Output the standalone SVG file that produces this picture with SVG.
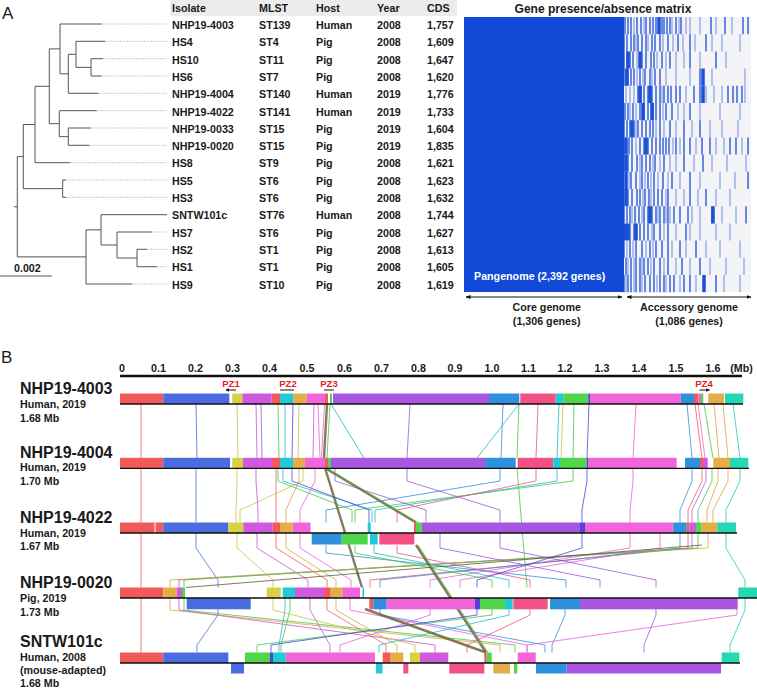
<svg xmlns="http://www.w3.org/2000/svg" width="757" height="691" viewBox="0 0 757 691">
<defs>
<style>
text{font-family:"Liberation Sans",Arial,sans-serif;fill:#1a1a1a}
.b{font-weight:bold;font-size:10.7px}
.big{font-weight:bold;font-size:16px}
.lt{font-size:17px}
.pz{font-weight:bold;font-size:9.5px;fill:#e8191b}
.mid{text-anchor:middle}
.tree{stroke:#555;stroke-width:1;fill:none}
.leaf{stroke:#c9c9c9;stroke-width:1;stroke-dasharray:2 1;fill:none}
.d{stroke:#1a4fd8;stroke-width:1.3;fill:none}
.l{stroke:#8ea4ea;stroke-width:1.3;fill:none}
.w{stroke:#1a4fd8;stroke-width:3.5;fill:none}
.c{fill:none;stroke-width:.8}
.thick{fill:none;stroke:#6e6440;stroke-width:2.4;opacity:.85}
.fR{fill:#f25a5a}.fB{fill:#4a6ce0}.fY{fill:#d6d244}.fM{fill:#cf5ade}.fT{fill:#20cad6}.fG{fill:#e3ad48}.fP{fill:#f264da}.fV{fill:#a856e2}.fS{fill:#2f91de}.fC{fill:#f25283}.fN{fill:#4fd64a}.fQ{fill:#24d8b4}.fD{fill:#4a46d8}
.sR{stroke:#f25a5a}.sB{stroke:#4a6ce0}.sY{stroke:#c8c440}.sM{stroke:#c656d6}.sT{stroke:#20bcc8}.sG{stroke:#dba543}.sP{stroke:#ee60d6}.sV{stroke:#9f58d8}.sS{stroke:#2f91de}.sC{stroke:#f05283}.sN{stroke:#48c844}.sQ{stroke:#22ccaa}.sD{stroke:#4a46d8}
.base{stroke:#111;stroke-width:1.3;fill:none}
.arr{stroke:#111;stroke-width:1;fill:none}
</style>
<marker id="ah" viewBox="0 0 10 10" refX="9" refY="5" markerWidth="5" markerHeight="5" orient="auto-start-reverse"><path d="M0,1L10,5L0,9z" fill="#111"/></marker>
<marker id="ahs" viewBox="0 0 10 10" refX="9" refY="5" markerWidth="3.6" markerHeight="3.6" orient="auto-start-reverse"><path d="M0,0L10,5L0,10z" fill="#111"/></marker>
</defs>
<rect width="757" height="691" fill="#fff"/>

<!-- Panel A -->
<text x="2" y="19" class="lt">A</text>
<g id="tree">
<path class="leaf" d="M101.7,24H167M105,41.3H167M103,58.7H167M101.7,76H167M98.3,93.3H167M96.7,110.7H167M91,128H167M89.3,145.3H167M70,162.7H167M66,180H167M66,197.3H167M152,232H167M147,249.3H167M157,266.7H167M132,284H167"/>
<path class="tree" d="M60,24H101.7M60,24V73.8H68.3M68.3,54.3V93.3H98.3M68.3,54.3H76M76,41.3V67.35H91M76,41.3H105M91,58.7V76H101.7M91,58.7H103M49.3,48.9H60M49.3,48.9V123.7H59.3M59.3,110.7V136.65H68.3M59.3,110.7H96.7M68.3,128V145.3H89.3M68.3,128H91M35,86.3H49.3M35,86.3V162.7H70M23.3,124.5H35M23.3,124.5V188.65H62.7M62.7,180V197.3H66M62.7,180H66M17.3,156.6H23.3M17.3,156.6V256.9H86M14,206.75H17.3M86,229.85V284H132M86,229.85H101M101,214.7V245H117M101,214.7H167M117,232V258H137M117,232H152M137,249.3V266.7H157M137,249.3H147"/>
<path class="tree" d="M0,276H52"/>
<text x="14" y="271.5" class="b">0.002</text>
</g>

<g id="table">
<rect x="170" y="0" width="287" height="16" fill="#ececec"/>
<text y="12" class="b"><tspan x="172">Isolate</tspan><tspan x="259">MLST</tspan><tspan x="316">Host</tspan><tspan x="377">Year</tspan><tspan x="427">CDS</tspan></text>
<g class="b">
<text y="28.8" class="b"><tspan x="172">NHP19-4003</tspan><tspan x="259">ST139</tspan><tspan x="316">Human</tspan><tspan x="377">2008</tspan><tspan x="427">1,757</tspan></text>
<text y="46.1" class="b"><tspan x="172">HS4</tspan><tspan x="259">ST4</tspan><tspan x="316">Pig</tspan><tspan x="377">2008</tspan><tspan x="427">1,609</tspan></text>
<text y="63.5" class="b"><tspan x="172">HS10</tspan><tspan x="259">ST11</tspan><tspan x="316">Pig</tspan><tspan x="377">2008</tspan><tspan x="427">1,647</tspan></text>
<text y="80.8" class="b"><tspan x="172">HS6</tspan><tspan x="259">ST7</tspan><tspan x="316">Pig</tspan><tspan x="377">2008</tspan><tspan x="427">1,620</tspan></text>
<text y="98.1" class="b"><tspan x="172">NHP19-4004</tspan><tspan x="259">ST140</tspan><tspan x="316">Human</tspan><tspan x="377">2019</tspan><tspan x="427">1,776</tspan></text>
<text y="115.5" class="b"><tspan x="172">NHP19-4022</tspan><tspan x="259">ST141</tspan><tspan x="316">Human</tspan><tspan x="377">2019</tspan><tspan x="427">1,733</tspan></text>
<text y="132.8" class="b"><tspan x="172">NHP19-0033</tspan><tspan x="259">ST15</tspan><tspan x="316">Pig</tspan><tspan x="377">2019</tspan><tspan x="427">1,604</tspan></text>
<text y="150.1" class="b"><tspan x="172">NHP19-0020</tspan><tspan x="259">ST15</tspan><tspan x="316">Pig</tspan><tspan x="377">2019</tspan><tspan x="427">1,835</tspan></text>
<text y="167.4" class="b"><tspan x="172">HS8</tspan><tspan x="259">ST9</tspan><tspan x="316">Pig</tspan><tspan x="377">2008</tspan><tspan x="427">1,621</tspan></text>
<text y="184.8" class="b"><tspan x="172">HS5</tspan><tspan x="259">ST6</tspan><tspan x="316">Pig</tspan><tspan x="377">2008</tspan><tspan x="427">1,623</tspan></text>
<text y="202.1" class="b"><tspan x="172">HS3</tspan><tspan x="259">ST6</tspan><tspan x="316">Pig</tspan><tspan x="377">2008</tspan><tspan x="427">1,632</tspan></text>
<text y="219.4" class="b"><tspan x="172">SNTW101c</tspan><tspan x="259">ST76</tspan><tspan x="316">Human</tspan><tspan x="377">2008</tspan><tspan x="427">1,744</tspan></text>
<text y="236.8" class="b"><tspan x="172">HS7</tspan><tspan x="259">ST6</tspan><tspan x="316">Pig</tspan><tspan x="377">2008</tspan><tspan x="427">1,627</tspan></text>
<text y="254.1" class="b"><tspan x="172">HS2</tspan><tspan x="259">ST1</tspan><tspan x="316">Pig</tspan><tspan x="377">2008</tspan><tspan x="427">1,613</tspan></text>
<text y="271.4" class="b"><tspan x="172">HS1</tspan><tspan x="259">ST1</tspan><tspan x="316">Pig</tspan><tspan x="377">2008</tspan><tspan x="427">1,605</tspan></text>
<text y="288.8" class="b"><tspan x="172">HS9</tspan><tspan x="259">ST10</tspan><tspan x="316">Pig</tspan><tspan x="377">2008</tspan><tspan x="427">1,619</tspan></text>
</g>
</g>

<g id="matrix">
<text x="603" y="12.5" class="mid" style="font-weight:bold;font-size:12px">Gene presence/absence matrix</text>
<rect x="464" y="17" width="160" height="275" fill="#1249d6"/>
<rect x="624" y="17" width="127" height="275" fill="#f4f4f7"/>
<g transform="translate(0,17)"><path class="l" d="M634,0v17.2M644,0v17.2M672,0v17.2M679,0v17.2M686,0v17.2M690,0v17.2M700,0v17.2M716,0v17.2M732,0v17.2"/><path class="d" d="M625,0v17.2M628,0v17.2M631,0v17.2M637,0v17.2M641,0v17.2M646,0v17.2M650,0v17.2M653,0v17.2M656,0v17.2M662,0v17.2M664,0v17.2M667,0v17.2M670,0v17.2M676,0v17.2M681,0v17.2M711,0v17.2M725,0v17.2M743,0v17.2M748,0v17.2"/><path class="w" d="M659,0v17.2"/></g>
<g transform="translate(0,34.2)"><path class="l" d="M636,0v17.2M648,0v17.2M663,0v17.2M673,0v17.2M683,0v17.2M695,0v17.2M712,0v17.2M722,0v17.2M740,0v17.2"/><path class="d" d="M624,0v17.2M627,0v17.2M631,0v17.2M634,0v17.2M638,0v17.2M642,0v17.2M646,0v17.2M652,0v17.2M655,0v17.2M660,0v17.2M668,0v17.2M678,0v17.2M690,0v17.2M706,0v17.2"/></g>
<g transform="translate(0,51.4)"><path class="l" d="M637,0v17.2M657,0v17.2M666,0v17.2M676,0v17.2M684,0v17.2M700,0v17.2M726,0v17.2"/><path class="d" d="M624,0v17.2M627,0v17.2M630,0v17.2M633,0v17.2M642,0v17.2M646,0v17.2M651,0v17.2M654,0v17.2M662,0v17.2M670,0v17.2M690,0v17.2M716,0v17.2"/><path class="w" d="M628,0v17.2M640,0v17.2"/></g>
<g transform="translate(0,68.6)"><path class="l" d="M628,0v17.2M637,0v17.2M643,0v17.2M652,0v17.2M666,0v17.2M676,0v17.2M690,0v17.2M712,0v17.2M745,0v17.2"/><path class="d" d="M625,0v17.2M631,0v17.2M634,0v17.2M640,0v17.2M645,0v17.2M650,0v17.2M655,0v17.2M660,0v17.2M700,0v17.2"/><path class="w" d="M627,0v17.2M703,0v17.2"/></g>
<g transform="translate(0,85.8)"><path class="l" d="M626,0v17.2M630,0v17.2M634,0v17.2M662,0v17.2M686,0v17.2M706,0v17.2M714,0v17.2M722,0v17.2M745,0v17.2"/><path class="d" d="M638,0v17.2M641,0v17.2M644,0v17.2M648,0v17.2M652,0v17.2M656,0v17.2M660,0v17.2M664,0v17.2M668,0v17.2M671,0v17.2M676,0v17.2M680,0v17.2M694,0v17.2M700,0v17.2M728,0v17.2M733,0v17.2M737,0v17.2M742,0v17.2"/><path class="w" d="M640,0v17.2M650,0v17.2M703,0v17.2"/></g>
<g transform="translate(0,103)"><path class="l" d="M630,0v17.2M636,0v17.2M663,0v17.2M678,0v17.2M684,0v17.2M700,0v17.2M720,0v17.2M740,0v17.2"/><path class="d" d="M625,0v17.2M628,0v17.2M633,0v17.2M640,0v17.2M644,0v17.2M648,0v17.2M653,0v17.2M656,0v17.2M660,0v17.2M666,0v17.2M672,0v17.2M690,0v17.2"/><path class="w" d="M643,0v17.2M652,0v17.2"/></g>
<g transform="translate(0,120.2)"><path class="l" d="M636,0v17.2M656,0v17.2M664,0v17.2M676,0v17.2M692,0v17.2M710,0v17.2M722,0v17.2M738,0v17.2"/><path class="d" d="M624,0v17.2M627,0v17.2M630,0v17.2M634,0v17.2M638,0v17.2M642,0v17.2M646,0v17.2M650,0v17.2M653,0v17.2M660,0v17.2M670,0v17.2M684,0v17.2M700,0v17.2"/><path class="w" d="M632,0v17.2"/></g>
<g transform="translate(0,137.4)"><path class="l" d="M636,0v17.2M673,0v17.2M680,0v17.2M696,0v17.2M716,0v17.2M724,0v17.2M742,0v17.2"/><path class="d" d="M625,0v17.2M629,0v17.2M632,0v17.2M640,0v17.2M644,0v17.2M648,0v17.2M652,0v17.2M656,0v17.2M660,0v17.2M663,0v17.2M666,0v17.2M669,0v17.2M676,0v17.2M684,0v17.2M690,0v17.2M702,0v17.2M710,0v17.2M730,0v17.2M736,0v17.2M748,0v17.2"/><path class="w" d="M626,0v17.2M646,0v17.2"/></g>
<g transform="translate(0,154.6)"><path class="l" d="M640,0v17.2M653,0v17.2M660,0v17.2M670,0v17.2M676,0v17.2M694,0v17.2M712,0v17.2M727,0v17.2M746,0v17.2"/><path class="d" d="M624,0v17.2M628,0v17.2M632,0v17.2M637,0v17.2M642,0v17.2M646,0v17.2M650,0v17.2M655,0v17.2M664,0v17.2M684,0v17.2M703,0v17.2"/><path class="w" d="M626,0v17.2"/></g>
<g transform="translate(0,171.8)"><path class="l" d="M629,0v17.2M640,0v17.2M645,0v17.2M651,0v17.2M658,0v17.2M668,0v17.2M680,0v17.2M700,0v17.2M720,0v17.2M735,0v17.2"/><path class="d" d="M626,0v17.2M631,0v17.2M636,0v17.2M642,0v17.2M648,0v17.2M654,0v17.2M663,0v17.2M672,0v17.2M690,0v17.2M748,0v17.2"/><path class="w" d="M626,0v17.2"/></g>
<g transform="translate(0,189)"><path class="l" d="M625,0v17.2M643,0v17.2M651,0v17.2M666,0v17.2M676,0v17.2M684,0v17.2M698,0v17.2M716,0v17.2M730,0v17.2"/><path class="d" d="M628,0v17.2M632,0v17.2M637,0v17.2M640,0v17.2M645,0v17.2M649,0v17.2M654,0v17.2M658,0v17.2M662,0v17.2M668,0v17.2M690,0v17.2M706,0v17.2"/><path class="w" d="M626,0v17.2"/></g>
<g transform="translate(0,206.2)"><path class="l" d="M632,0v17.2M642,0v17.2M658,0v17.2M666,0v17.2M670,0v17.2M692,0v17.2M700,0v17.2M722,0v17.2M736,0v17.2"/><path class="d" d="M624,0v17.2M627,0v17.2M630,0v17.2M635,0v17.2M639,0v17.2M644,0v17.2M648,0v17.2M652,0v17.2M656,0v17.2M660,0v17.2M664,0v17.2M668,0v17.2M674,0v17.2M680,0v17.2M688,0v17.2M712,0v17.2M746,0v17.2"/><path class="w" d="M650,0v17.2M713,0v17.2"/></g>
<g transform="translate(0,223.4)"><path class="l" d="M652,0v17.2M664,0v17.2M676,0v17.2M690,0v17.2M700,0v17.2M716,0v17.2M730,0v17.2"/><path class="d" d="M630,0v17.2M634,0v17.2M640,0v17.2M644,0v17.2M648,0v17.2M654,0v17.2M660,0v17.2M668,0v17.2M686,0v17.2"/><path class="w" d="M625,0v17.2M628,0v17.2M636,0v17.2"/></g>
<g transform="translate(0,240.6)"><path class="l" d="M627,0v17.2M633,0v17.2M646,0v17.2M653,0v17.2M672,0v17.2M686,0v17.2M706,0v17.2M720,0v17.2M740,0v17.2"/><path class="d" d="M624,0v17.2M630,0v17.2M636,0v17.2M642,0v17.2M650,0v17.2M656,0v17.2M662,0v17.2M668,0v17.2M680,0v17.2M696,0v17.2"/></g>
<g transform="translate(0,257.8)"><path class="l" d="M628,0v17.2M634,0v17.2M642,0v17.2M651,0v17.2M664,0v17.2M676,0v17.2M690,0v17.2M710,0v17.2M726,0v17.2M744,0v17.2"/><path class="d" d="M626,0v17.2M631,0v17.2M636,0v17.2M640,0v17.2M644,0v17.2M648,0v17.2M654,0v17.2M660,0v17.2M668,0v17.2M682,0v17.2M700,0v17.2"/></g>
<g transform="translate(0,275)"><path class="l" d="M626,0v17.2M634,0v17.2M642,0v17.2M657,0v17.2M666,0v17.2M680,0v17.2M696,0v17.2M724,0v17.2M740,0v17.2"/><path class="d" d="M624,0v17.2M628,0v17.2M631,0v17.2M636,0v17.2M640,0v17.2M645,0v17.2M650,0v17.2M654,0v17.2M660,0v17.2M664,0v17.2M670,0v17.2M674,0v17.2M684,0v17.2M690,0v17.2M716,0v17.2"/><path class="w" d="M704,0v17.2"/></g>
<text x="474" y="280" class="b" style="fill:#fff">Pangenome (2,392 genes)</text>
<path class="arr" d="M466,297H622" marker-start="url(#ah)" marker-end="url(#ah)"/>
<path class="arr" d="M627,297H751" marker-start="url(#ah)" marker-end="url(#ah)"/>
<text x="546.7" y="310.5" class="b mid">Core genome</text>
<text x="546.7" y="324.5" class="b mid">(1,306 genes)</text>
<text x="689" y="310.5" class="b mid">Accessory genome</text>
<text x="689" y="324.5" class="b mid">(1,086 genes)</text>
</g>

<!-- Panel B -->
<text x="1" y="363" class="lt">B</text>
<g id="axis">
<path d="M120,376H742" stroke="#111" stroke-width="2.6" fill="none"/>
<text y="372" class="b mid"><tspan x="122">0</tspan><tspan x="158.5">0.1</tspan><tspan x="195.5">0.2</tspan><tspan x="232.5">0.3</tspan><tspan x="269.5">0.4</tspan><tspan x="307">0.5</tspan><tspan x="344.5">0.6</tspan><tspan x="381.5">0.7</tspan><tspan x="418.5">0.8</tspan><tspan x="455">0.9</tspan><tspan x="492">1.0</tspan><tspan x="528.5">1.1</tspan><tspan x="565">1.2</tspan><tspan x="602">1.3</tspan><tspan x="639">1.4</tspan><tspan x="676">1.5</tspan><tspan x="713">1.6</tspan><tspan x="741.5">(Mb)</tspan></text>
</g>

<g id="connectors">
<!-- 4003 to 4004 -->
<path class="c sR" d="M141,404V458M695,404L702,458"/>
<path class="c sB" d="M196,404L197,458"/>
<path class="c sY" d="M237,404L238,458M299,404L298,458M563,404L561,458"/>
<path class="c sM" d="M256,404L257,458M314,404L313,458"/>
<path class="c sV" d="M261,404L262,458M410,404L407,458"/>
<path class="c sN" d="M278,404L279,458M519,404L517,458M574,404L573,458M704,404L713,458"/>
<path class="c sT" d="M285,404L285,458M331,404L364,458M519,404L477,458M559,404L557,458"/>
<path class="c sD" d="M293,404L292,458M589,404L587,458"/>
<path class="c sP" d="M318,404L320,458M636,404L633,458M698,404L705,458"/>
<path class="c sS" d="M503,404L501,458M687,404L692,458"/>
<path class="c sC" d="M538,404L536,458"/>
<path class="c sG" d="M714,404L719,458M723,404L728,458"/>
<path class="c sQ" d="M733,404L740,458"/>
<path class="thick" d="M327,404L324,458"/>
<path class="c sN" d="M330,404L327,458"/>
<path class="c sP" d="M324.5,404L321.5,458"/>
<!-- 4004 to 4022 -->
<path class="c sR" d="M141,468V522.5M276,468V481L276,510V522.5M702,468V481L688,510V522.5"/>
<path class="c sB" d="M196,468V522.5"/>
<path class="c sY" d="M237,468V481L236,510V522.5M303,468V481L240,510V522.5"/>
<path class="c sM" d="M256,468V481L258,510V522.5M706,468V481L692,510V522.5"/>
<path class="c sN" d="M278,468V481L352,510V522.5M573,468V481L355,510V522.5M712,468V481L698,510V522.5M517,468L527,587.5"/>
<path class="c sT" d="M283,468V481L372,510V522.5M557,468V481L375,510V522.5"/>
<path class="c sD" d="M292,468V481L369,510V522.5M587,468V481L582,510V522.5"/>
<path class="c sG" d="M299,468V481L286,510V522.5M718,468V481L707,510V522.5M728,468V481L713,510V522.5"/>
<path class="c sP" d="M315,468V481L300,510V522.5M633,468V481L630,510V522.5"/>
<path class="c sV" d="M335,468V481L426,510V522.5M407,468V481L500,510V522.5"/>
<path class="c sS" d="M500,468V481L326,510V522.5M692,468V481L680,510V522.5"/>
<path class="c sC" d="M536,468V481L397,510V522.5"/>
<path class="c sQ" d="M740,468V481L726,510V522.5"/>
<path class="thick" d="M325,468L416,522.5M325,468L362,587.5"/>
<path class="c sN" d="M327,468L418,522.5"/>
<!-- 4022 to 0020 -->
<path class="c sR" d="M141,533V587.5M276,533V548L327,580V587.5M688,533V548L370,580V587.5"/>
<path class="c sB" d="M196,533V548L218,580V587.5"/>
<path class="c sY" d="M237,533V548L273,580V587.5"/>
<path class="c sM" d="M257,533V548L308,580V587.5M692,533V548L179,580V587.5"/>
<path class="c sG" d="M286,533V548L336,580V587.5M708,533V548L170,580V587.5"/>
<path class="c sP" d="M300,533V548L351,580V587.5M630,533V548L430,580V587.5M660,533V548L460,580V587.5"/>
<path class="c sS" d="M326,545V553L566,580V587.5M680,533V548L380,580V587.5"/>
<path class="c sN" d="M355,545V553L492,580V587.5M698,533V548L184,580V587.5"/>
<path class="c sT" d="M374,545V553L509,580V587.5"/>
<path class="c sC" d="M397,545V553L530,580V587.5"/>
<path class="c sV" d="M440,533V548L600,580V587.5M500,533V548L656,580V587.5"/>
<path class="c sD" d="M582,533V548L477,580V587.5"/>
<path class="c sQ" d="M726,533V548L745,580V587.5"/>
<path class="c" stroke="#5e5a38" stroke-width="1.2" d="M702,545L186,587.5"/>
<path class="thick" d="M416,545L486,652.5"/>
<path class="c sN" d="M418,545L488,652.5"/>
<!-- 0020 to SNTW101c -->
<path class="c sR" d="M141,598V652.5M327,598V610L386,645V652.5"/>
<path class="c sB" d="M218,609V615L197,645V652.5"/>
<path class="c sG" d="M170,598V610L500,645V652.5M336,598V610L397,645V652.5"/>
<path class="c sM" d="M179,598V610L435,645V652.5M310,598V610L330,645V652.5"/>
<path class="c sN" d="M184,598V610L515,645V652.5M290,598V610L281,645V652.5M492,609V615L257,645V652.5"/>
<path class="c sY" d="M273,598V610L415,645V652.5"/>
<path class="c sT" d="M285,598V610L279,645V652.5M509,609V615L379,645V652.5"/>
<path class="c sP" d="M350,598V610L527,645V652.5M430,609V615L340,645V652.5M737,609V615L527,645V652.5"/>
<path class="c sS" d="M380,609V615L545,645V652.5M565,609V615L552,645V652.5"/>
<path class="c sD" d="M477,609V615L271,645V652.5"/>
<path class="c sC" d="M530,609V615L467,645V652.5"/>
<path class="c sV" d="M656,609V615L644,645V652.5"/>
<path class="c sQ" d="M745,598V610L730,645V652.5"/>
<path class="thick" d="M365,609L486,652.5"/>
</g>

<g id="NHP19-4003">
<rect class="fR" x="120" y="393.5" width="43.3" height="10.5"/><rect class="fB" x="163.3" y="393.5" width="66" height="10.5"/><rect class="fY" x="232.3" y="393.5" width="10" height="10.5"/><rect class="fM" x="242.3" y="393.5" width="29.4" height="10.5"/><rect class="fR" x="271.7" y="393.5" width="8.3" height="10.5"/><rect class="fT" x="280" y="393.5" width="13.3" height="10.5"/><rect class="fG" x="293.3" y="393.5" width="13.4" height="10.5"/><rect class="fP" x="306.7" y="393.5" width="18.3" height="10.5"/><rect class="fR" x="325" y="393.5" width="3" height="10.5"/><rect class="fN" x="330" y="393.5" width="2" height="10.5"/><rect class="fV" x="333" y="393.5" width="156" height="10.5"/><rect class="fS" x="489" y="393.5" width="30.3" height="10.5"/><rect class="fC" x="520.3" y="393.5" width="35.4" height="10.5"/><rect class="fT" x="555.7" y="393.5" width="7.6" height="10.5"/><rect class="fN" x="563.3" y="393.5" width="25" height="10.5"/><rect class="fD" x="588.3" y="393.5" width="1.7" height="10.5"/><rect class="fP" x="590" y="393.5" width="90.7" height="10.5"/><rect class="fS" x="680.7" y="393.5" width="13.3" height="10.5"/><rect class="fR" x="694" y="393.5" width="4.3" height="10.5"/><rect class="fP" x="698.3" y="393.5" width="2.7" height="10.5"/><rect class="fN" x="701" y="393.5" width="2.3" height="10.5"/><rect class="fG" x="708.3" y="393.5" width="15.7" height="10.5"/><rect class="fQ" x="725" y="393.5" width="18.3" height="10.5"/>
<path class="base" d="M120,404H743"/>
<text x="20" y="394" class="big">NHP19-4003</text>
<text x="20" y="408" class="b">Human, 2019</text>
<text x="20" y="421.5" class="b">1.68 Mb</text>
<text x="231" y="386.6" class="pz mid">PZ1</text>
<text x="288" y="386.6" class="pz mid">PZ2</text>
<text x="329" y="386.6" class="pz mid">PZ3</text>
<text x="704" y="386.6" class="pz mid">PZ4</text>
<path class="arr" d="M226,390H236M280,390H294M324,390H334M699.5,390H709.5" marker-start="url(#ahs)" marker-end="url(#ahs)"/>
</g>

<g id="NHP19-4004">
<rect class="fR" x="120" y="457.8" width="43.3" height="10.5"/><rect class="fB" x="163.3" y="457.8" width="66.7" height="10.5"/><rect class="fY" x="232.3" y="457.8" width="10.7" height="10.5"/><rect class="fM" x="243" y="457.8" width="29" height="10.5"/><rect class="fR" x="272" y="457.8" width="8" height="10.5"/><rect class="fT" x="280" y="457.8" width="13" height="10.5"/><rect class="fG" x="293" y="457.8" width="12" height="10.5"/><rect class="fP" x="305" y="457.8" width="20" height="10.5"/><rect class="fR" x="325" y="457.8" width="3" height="10.5"/><rect class="fN" x="328" y="457.8" width="3" height="10.5"/><rect class="fV" x="331" y="457.8" width="154" height="10.5"/><rect class="fS" x="485" y="457.8" width="30.7" height="10.5"/><rect class="fC" x="517.7" y="457.8" width="35.6" height="10.5"/><rect class="fT" x="553.3" y="457.8" width="6.7" height="10.5"/><rect class="fN" x="560" y="457.8" width="26.7" height="10.5"/><rect class="fD" x="586.7" y="457.8" width="1.3" height="10.5"/><rect class="fP" x="588" y="457.8" width="88.7" height="10.5"/><rect class="fS" x="685" y="457.8" width="15" height="10.5"/><rect class="fR" x="700" y="457.8" width="3" height="10.5"/><rect class="fM" x="703" y="457.8" width="4.7" height="10.5"/><rect class="fG" x="713.3" y="457.8" width="16.7" height="10.5"/><rect class="fQ" x="730" y="457.8" width="18.3" height="10.5"/>
<path class="base" d="M120,468.3H749"/>
<text x="20" y="457.5" class="big">NHP19-4004</text>
<text x="20" y="471.2" class="b">Human, 2019</text>
<text x="20" y="484.8" class="b">1.70 Mb</text>
</g>

<g id="NHP19-4022">
<rect class="fR" x="120" y="522.5" width="43.3" height="10.5"/><rect x="154.5" y="522.5" width="1" height="10.5" fill="#fff"/><rect class="fB" x="163.3" y="522.5" width="65" height="10.5"/><rect class="fY" x="228.3" y="522.5" width="15" height="10.5"/><rect class="fM" x="243.3" y="522.5" width="29.4" height="10.5"/><rect class="fR" x="272.7" y="522.5" width="7.3" height="10.5"/><rect class="fG" x="280" y="522.5" width="12.7" height="10.5"/><rect class="fP" x="292.7" y="522.5" width="17.8" height="10.5"/><rect class="fT" x="367.7" y="522.5" width="3" height="10.5"/><rect class="fR" x="414" y="522.5" width="2" height="10.5"/><rect class="fN" x="416" y="522.5" width="5.7" height="10.5"/><rect class="fV" x="421.7" y="522.5" width="158.3" height="10.5"/><rect class="fD" x="580" y="522.5" width="5" height="10.5"/><rect class="fP" x="585" y="522.5" width="88.3" height="10.5"/><rect class="fS" x="673.3" y="522.5" width="13.4" height="10.5"/><rect class="fR" x="686.7" y="522.5" width="2.6" height="10.5"/><rect class="fM" x="689.3" y="522.5" width="6.7" height="10.5"/><rect class="fN" x="696" y="522.5" width="5.7" height="10.5"/><rect class="fG" x="701.7" y="522.5" width="15.6" height="10.5"/><rect class="fQ" x="717.3" y="522.5" width="18.7" height="10.5"/>
<rect class="fS" x="311.7" y="533" width="30" height="11.5"/><rect class="fN" x="341.7" y="533" width="26" height="11.5"/><rect class="fT" x="370" y="533" width="7.7" height="11.5"/><rect class="fC" x="379.3" y="533" width="35" height="11.5"/>
<path class="base" d="M120,533H737"/>
<text x="20" y="523" class="big">NHP19-4022</text>
<text x="20" y="536.5" class="b">Human, 2019</text>
<text x="20" y="550" class="b">1.67 Mb</text>
</g>

<g id="NHP19-0020">
<rect class="fR" x="120" y="587.5" width="43.3" height="10.5"/><rect class="fG" x="163.3" y="587.5" width="13.4" height="10.5"/><rect class="fM" x="176.7" y="587.5" width="5.3" height="10.5"/><rect class="fN" x="182" y="587.5" width="3" height="10.5"/><rect class="fY" x="266.7" y="587.5" width="14" height="10.5"/><rect class="fT" x="282.7" y="587.5" width="12.3" height="10.5"/><rect class="fM" x="295" y="587.5" width="29" height="10.5"/><rect class="fR" x="324" y="587.5" width="6.7" height="10.5"/><rect class="fG" x="330.7" y="587.5" width="11.6" height="10.5"/><rect class="fP" x="342.3" y="587.5" width="17.7" height="10.5"/><rect class="fT" x="362.5" y="587.5" width="1.5" height="10.5"/><rect class="fQ" x="738.3" y="587.5" width="18.7" height="10.5"/>
<rect class="fB" x="186.7" y="598" width="64" height="11.3"/><rect class="fR" x="369.3" y="598" width="4" height="11.3"/><rect class="fS" x="373.3" y="598" width="13.4" height="11.3"/><rect class="fP" x="386.7" y="598" width="88.3" height="11.3"/><rect class="fD" x="475" y="598" width="5" height="11.3"/><rect class="fN" x="480" y="598" width="25" height="11.3"/><rect class="fT" x="505" y="598" width="7.7" height="11.3"/><rect class="fC" x="513.3" y="598" width="34.4" height="11.3"/><rect class="fS" x="550" y="598" width="30" height="11.3"/><rect class="fV" x="580" y="598" width="157.7" height="11.3"/>
<path class="base" d="M120,598H757"/>
<text x="20" y="588.4" class="big">NHP19-0020</text>
<text x="20" y="602" class="b">Pig, 2019</text>
<text x="20" y="615.5" class="b">1.73 Mb</text>
</g>

<g id="SNTW101c">
<rect class="fR" x="120" y="652.5" width="43.3" height="10.5"/><rect class="fB" x="163.3" y="652.5" width="65" height="10.5"/><rect class="fN" x="245" y="652.5" width="25" height="10.5"/><rect class="fD" x="270" y="652.5" width="3" height="10.5"/><rect class="fT" x="273" y="652.5" width="12.7" height="10.5"/><rect class="fP" x="285.7" y="652.5" width="89.3" height="10.5"/><rect class="fR" x="382.7" y="652.5" width="8" height="10.5"/><rect class="fG" x="390.7" y="652.5" width="12.6" height="10.5"/><rect class="fY" x="410" y="652.5" width="10" height="10.5"/><rect class="fM" x="420" y="652.5" width="28.3" height="10.5"/><rect class="fR" x="484.3" y="652.5" width="2.4" height="10.5"/><rect class="fN" x="486.7" y="652.5" width="5" height="10.5"/><rect class="fP" x="517.7" y="652.5" width="18" height="10.5"/><rect class="fQ" x="721.7" y="652.5" width="17.6" height="10.5"/>
<rect class="fB" x="231" y="663" width="13" height="10.5"/><rect class="fT" x="376" y="663" width="6.5" height="10.5"/><rect class="fC" x="403.3" y="663" width="5" height="10.5"/><rect class="fC" x="449.3" y="663" width="35" height="10.5"/><rect class="fG" x="493.3" y="663" width="16.7" height="10.5"/><rect class="fN" x="514" y="663" width="3.3" height="10.5"/><rect class="fS" x="536" y="663" width="30.7" height="10.5"/><rect class="fV" x="566.7" y="663" width="154.3" height="10.5"/>
<path class="base" d="M120,663H740"/>
<text x="20" y="647.4" class="big">SNTW101c</text>
<text x="20" y="661" class="b">Human, 2008</text>
<text x="20" y="674" class="b">(mouse-adapted)</text>
<text x="20" y="687" class="b">1.68 Mb</text>
</g>
</svg>
